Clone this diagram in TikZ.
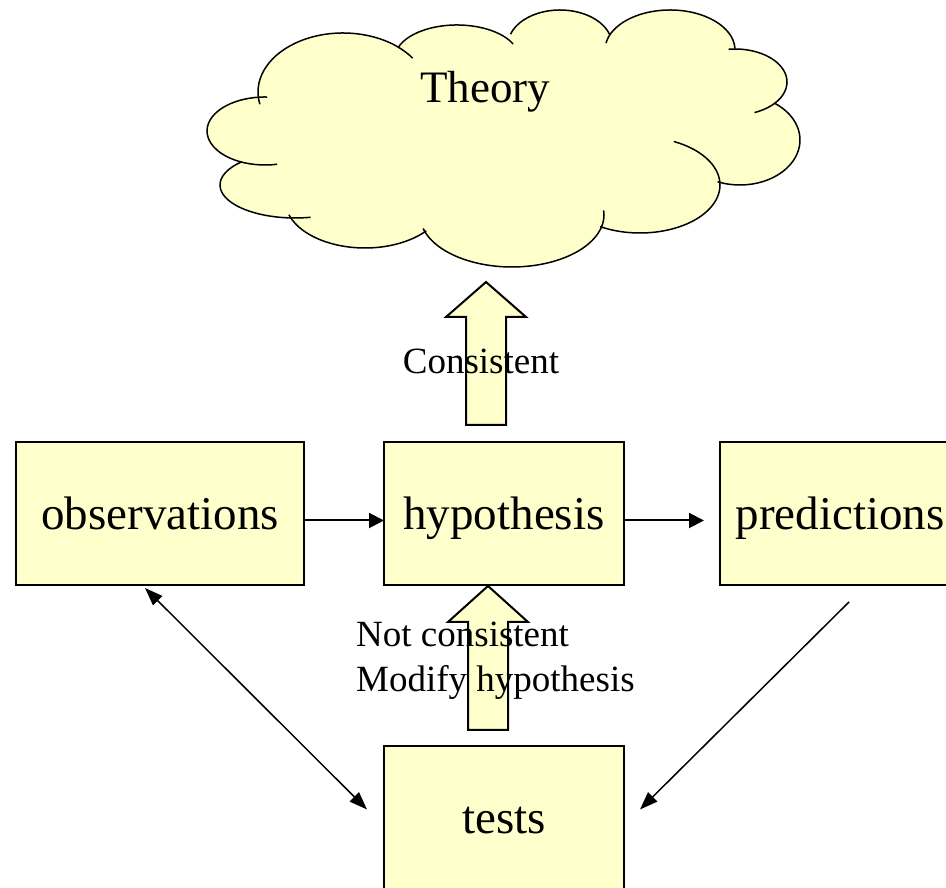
\documentclass[tikz,border=0pt]{standalone}
\usepackage{fontspec}
\setmainfont{Liberation Serif}
\usepackage{tikz}
\usetikzlibrary{positioning, arrows.meta, calc}
\definecolor{paleyellow}{RGB}{255,255,204}

\begin{document}
\begin{tikzpicture}[
  x=1pt, y=1pt,
  stagebox/.style={
    rectangle, draw=black, line width=2pt, fill=paleyellow,
    minimum width=240pt, minimum height=143pt, outer sep=0pt,
    text height=32pt, text depth=0pt,
    font=\fontsize{47}{56}\selectfont
  },
  arr/.style={-{Triangle[length=15pt, width=15pt]}, line width=2pt},
  thinarr/.style={-{Triangle[length=18pt, width=13pt]}, line width=1.5pt},
  fatarr/.style={draw=black, line width=2pt, fill=paleyellow, line join=miter},
  cloudline/.style={draw=black, line width=1.5pt},
  lbl/.style={font=\fontsize{37}{45}\selectfont, inner sep=0pt}
]
\useasboundingbox (0,0) rectangle (946,888);

% the cloud: filled lobes, then their arcs
\fill[paleyellow] (265,757) -- (295,703) -- (365,688) -- (512,673) -- (640,703)
  -- (740,748) -- (735,806) -- (670,838) -- (560,843) -- (457,830) -- (343,796) -- cycle;
\foreach \cx/\cy/\rx/\ry/\sa/\ea in {
    265/757/58/34/88/282, 295/703/75/33/135/282, 365/688/80/48/198/320,
    512/673/92/52/195/365, 640/703/80/48/240/425, 740/748/60/45/248/415,
    735/806/52/33/-68/97, 670/838/65/40/2/170, 560/843/52/35/18/162,
    457/830/62/33/25/162, 343/796/85/59/35/192} {
  \fill[paleyellow] (\cx,\cy) ellipse[x radius=\rx, y radius=\ry];
}
\foreach \cx/\cy/\rx/\ry/\sa/\ea in {
    265/757/58/34/88/282, 295/703/75/33/135/282, 365/688/80/48/198/320,
    512/673/92/52/195/365, 640/703/80/48/240/425, 740/748/60/45/248/415,
    735/806/52/33/-68/97, 670/838/65/40/2/170, 560/843/52/35/18/162,
    457/830/62/33/25/162, 343/796/85/59/35/192} {
  \draw[cloudline] (\cx,\cy) ++({\rx*cos(\sa)},{\ry*sin(\sa)})
    arc[start angle=\sa, end angle=\ea, x radius=\rx, y radius=\ry];
}
\node[font=\fontsize{45}{54}\selectfont, inner sep=0pt, anchor=base] (theory) at (485,785) {Theory};

% boxes
\node[stagebox, minimum width=288pt] (obs) at (160,374.5) {observations};
\node[stagebox, right=80pt of obs] (hyp) {hypothesis};
\node[stagebox, right=96pt of hyp] (pred) {predictions};
\node[stagebox, below=161pt of hyp] (tests) {tests};

% connectors
\draw[arr] ([yshift=-7pt]obs.east) -- ([yshift=-7pt]hyp.west);
\draw[arr] ([yshift=-7pt]hyp.east) -- ([xshift=-16pt, yshift=-7pt]pred.west);
\draw[thinarr, {Triangle[length=18pt, width=13pt]}-{Triangle[length=18pt, width=13pt]}]
  ([xshift=-15pt, yshift=-3pt]obs.south) -- ([xshift=-17pt, yshift=8pt]tests.west);
\draw[thinarr] ([xshift=9pt, yshift=-17pt]pred.south) -- ([xshift=16pt, yshift=8pt]tests.east);

% block arrows
\draw[fatarr] ([xshift=-18pt, yshift=17pt]hyp.north) ++(-20,0) -- ++(0,108) -- ++(-20,0)
  -- ++(40,35) -- ++(40,-35) -- ++(-20,0) -- ++(0,-108) -- cycle;
\draw[fatarr] ([xshift=-16pt, yshift=16pt]tests.north) ++(-20,0) -- ++(0,108) -- ++(-20,0)
  -- ++(40,36) -- ++(40,-36) -- ++(-20,0) -- ++(0,-108) -- cycle;

\node[lbl, anchor=base] (cons) at (481,514) {Consistent};
\node[lbl, anchor=base west, align=left] (notcons) at (356,196) {Not consistent\\Modify hypothesis};

\end{tikzpicture}
\end{document}
